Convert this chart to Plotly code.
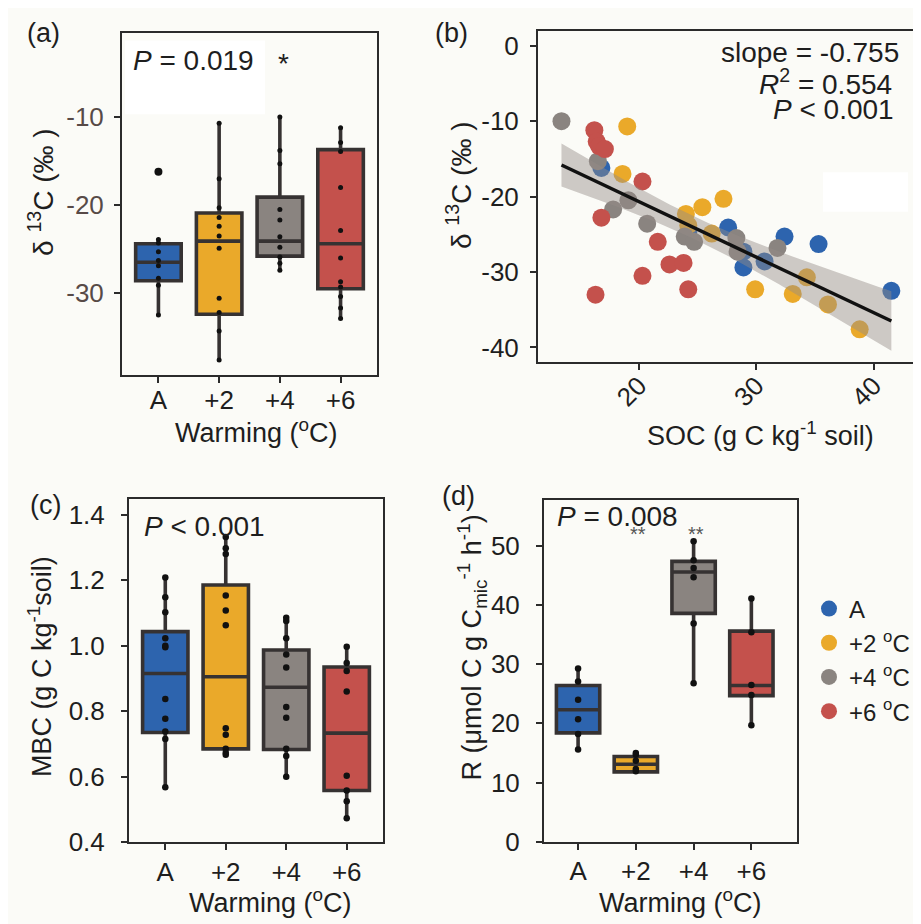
import numpy as np
import plotly.graph_objects as go

W, H = 921, 924
groups = ["A", "+2", "+4", "+6"]
legend_names = ["A", "+2 <sup>o</sup>C", "+4 <sup>o</sup>C", "+6 <sup>o</sup>C"]
colors = ["#2d64ae", "#eaa92a", "#8a8480", "#c4514c"]
BG = "#fbfbf7"
DARK = "#2b2b2b"
BOXLINE = "#363232"

# ---- panel (a): delta13C by warming ----
a_q1 = [-28.6, -32.4, -25.8, -29.5]
a_med = [-26.5, -24.1, -24.1, -24.4]
a_q3 = [-24.4, -20.9, -19.1, -13.7]
a_lo = [-32.5, -37.6, -27.4, -32.9]
a_hi = [-23.9, -10.7, -10.0, -11.2]
a_pts = [
    [-23.9, -24.3, -25.3, -26.3, -26.9, -28.3, -29.1, -32.5],
    [-10.7, -17.0, -20.3, -21.4, -22.4, -23.5, -24.9, -30.6, -32.2, -34.3, -37.6],
    [-10.0, -13.8, -15.3, -20.5, -21.7, -23.6, -24.8, -25.9, -26.6, -27.4],
    [-11.2, -12.9, -13.9, -18.0, -22.9, -26.0, -28.7, -29.3, -30.4, -31.7, -32.9],
]
a_outlier_x = [1]
a_outlier_y = [-16.2]
a_ticks = [-30, -20, -10]
a_ticklabels = ["-30", "-20", "-10"]

# ---- panel (b): SOC vs delta13C ----
b_x = [
    [16.8, 24.2, 27.6, 28.9, 28.9, 30.7, 32.4, 35.3, 41.5],
    [19.0, 18.6, 27.2, 25.4, 24.0, 24.2, 26.2, 29.9, 33.1, 34.3, 36.1, 38.8],
    [13.4, 16.5, 17.8, 19.1, 20.7, 23.9, 24.7, 28.3, 28.4, 31.8],
    [16.2, 16.4, 16.6, 17.1, 20.3, 16.8, 21.6, 22.6, 23.8, 20.3, 16.3, 24.2],
]
b_y = [
    [-16.2, -24.7, -24.1, -27.3, -29.4, -28.6, -25.3, -26.3, -32.5],
    [-10.7, -17.0, -20.3, -21.4, -22.3, -23.8, -24.9, -32.3, -32.9, -30.7, -34.3, -37.6],
    [-10.0, -15.3, -21.7, -20.5, -23.6, -25.3, -26.0, -25.5, -27.3, -26.8],
    [-11.2, -12.7, -13.3, -13.7, -18.0, -22.8, -26.0, -29.0, -28.8, -30.5, -33.0, -32.3],
]
b_yticks = [-40, -30, -20, -10, 0]
b_yticklabels = ["-40", "-30", "-20", "-10", "0"]
b_xticks = [20, 30, 40]

# ---- panel (c): MBC ----
c_q1 = [0.735, 0.685, 0.683, 0.558]
c_med = [0.915, 0.905, 0.873, 0.733]
c_q3 = [1.043, 1.185, 0.987, 0.935]
c_lo = [0.568, 0.667, 0.600, 0.473]
c_hi = [1.208, 1.332, 1.085, 0.997]
c_pts = [
    [1.208, 1.148, 1.102, 1.023, 1.000, 0.995, 0.837, 0.777, 0.738, 0.715, 0.568],
    [1.332, 1.297, 1.280, 1.153, 1.107, 1.062, 0.748, 0.728, 0.685, 0.673, 0.667],
    [1.085, 1.075, 1.023, 0.973, 0.933, 0.813, 0.780, 0.685, 0.663, 0.600],
    [0.997, 0.947, 0.923, 0.860, 0.603, 0.558, 0.525, 0.473],
]
c_ticks = [0.4, 0.6, 0.8, 1.0, 1.2, 1.4]

# ---- panel (d): R ----
d_q1 = [18.4, 11.8, 38.6, 24.7]
d_med = [22.3, 13.1, 45.6, 26.4]
d_q3 = [26.4, 14.4, 47.4, 35.6]
d_lo = [15.6, 11.7, 26.8, 19.7]
d_hi = [29.3, 15.0, 50.8, 41.1]
d_pts = [
    [29.3, 27.1, 24.0, 20.7, 18.2, 15.6],
    [15.0, 14.7, 13.7, 12.3, 11.9],
    [50.8, 47.6, 46.3, 44.7, 36.9, 26.8],
    [41.1, 35.4, 26.5, 24.8, 19.7],
]
d_ticks = [0, 10, 20, 30, 40, 50]

xpos = [1, 2, 3, 4]
FONT = "Liberation Sans, Arial, sans-serif"

fig = go.Figure()


def px2x(p):
    return p / W


def px2y(p):
    return 1 - p / H


def add_boxes(xa, ya, q1, med, q3, lo, hi, pts, dotsize):
    for i in range(4):
        fig.add_trace(go.Box(
            x=[xpos[i]], q1=[q1[i]], median=[med[i]], q3=[q3[i]],
            lowerfence=[lo[i]], upperfence=[hi[i]],
            width=0.75, fillcolor=colors[i], whiskerwidth=0,
            line=dict(color=BOXLINE, width=3.6), boxpoints=False,
            xaxis=xa, yaxis=ya, showlegend=False, hoverinfo="skip"))
        fig.add_trace(go.Scatter(
            x=[xpos[i]] * len(pts[i]), y=pts[i], mode="markers",
            marker=dict(color="#111111", size=dotsize),
            xaxis=xa, yaxis=ya, showlegend=False, hoverinfo="skip"))


add_boxes("x", "y", a_q1, a_med, a_q3, a_lo, a_hi, a_pts, 5)
fig.add_trace(go.Scatter(x=a_outlier_x, y=a_outlier_y, mode="markers",
                         marker=dict(color="#111111", size=8),
                         xaxis="x", yaxis="y", showlegend=False))
add_boxes("x3", "y3", c_q1, c_med, c_q3, c_lo, c_hi, c_pts, 6.5)
add_boxes("x4", "y4", d_q1, d_med, d_q3, d_lo, d_hi, d_pts, 6.5)

# scatter (b)
for i in range(4):
    fig.add_trace(go.Scatter(
        x=b_x[i], y=b_y[i], mode="markers", name=legend_names[i],
        marker=dict(color=colors[i], size=18, line=dict(width=0)),
        xaxis="x2", yaxis="y2", showlegend=True, legend="legend"))

# regression fit with 95% confidence band (from the data)
allx = np.concatenate([np.array(v) for v in b_x])
ally = np.concatenate([np.array(v) for v in b_y])
n = len(allx)
slope, icpt = np.polyfit(allx, ally, 1)
xs = np.linspace(allx.min(), allx.max(), 80)
yfit = icpt + slope * xs
resid = ally - (icpt + slope * allx)
s = np.sqrt(np.sum(resid ** 2) / (n - 2))
sxx = np.sum((allx - allx.mean()) ** 2)
se = s * np.sqrt(1 / n + (xs - allx.mean()) ** 2 / sxx)
tval = 2.02
fig.add_trace(go.Scatter(
    x=np.concatenate([xs, xs[::-1]]),
    y=np.concatenate([yfit + tval * se, (yfit - tval * se)[::-1]]),
    fill="toself", fillcolor="rgba(148,140,136,0.45)", line=dict(width=0),
    mode="lines", xaxis="x2", yaxis="y2", showlegend=False, hoverinfo="skip"))
fig.add_trace(go.Scatter(x=xs, y=yfit, mode="lines",
                         line=dict(color="#111111", width=3.5),
                         xaxis="x2", yaxis="y2", showlegend=False))

TICKFONT = dict(family=FONT, size=26, color="#1e1e1e")


def axis_common(dom, rng, **kw):
    d = dict(domain=dom, range=rng, showline=True, mirror=True, linecolor=DARK,
             linewidth=2, ticks="outside", ticklen=6, tickwidth=2, tickcolor=DARK,
             showgrid=False, zeroline=False, tickfont=TICKFONT, fixedrange=True)
    d.update(kw)
    return d


cat_kw = dict(tickmode="array", tickvals=xpos, ticktext=groups)

fig.update_layout(
    width=W, height=H, margin=dict(l=0, r=0, t=0, b=0),
    paper_bgcolor=BG, plot_bgcolor=BG,
    font=dict(family=FONT, size=24, color="#1e1e1e"),
    xaxis=axis_common([px2x(114), px2x(369)], [0.4, 4.6], anchor="y",
                      ticklabelstandoff=-5, **cat_kw),
    yaxis=axis_common([px2y(373), px2y(25)], [-39.3, -0.4], anchor="x",
                      tickmode="array", tickvals=a_ticks, ticktext=a_ticklabels,
                      ticklabelstandoff=5,
                      tickfont=dict(family=FONT, size=26, color="#574a47")),
    xaxis2=axis_common([px2x(530), px2x(908)], [11.4, 43.6], anchor="y2",
                       tickvals=b_xticks, tickangle=-45, ticklabelstandoff=-10),
    yaxis2=axis_common([px2y(360), px2y(23)], [-41.95, 2.0], anchor="x2",
                       tickmode="array", tickvals=b_yticks, ticktext=b_yticklabels,
                       ticklabelstandoff=6),
    xaxis3=axis_common([px2x(121), px2x(375)], [0.4, 4.6], anchor="y3",
                       ticklabelstandoff=0, **cat_kw),
    yaxis3=axis_common([px2y(848), px2y(499)], [0.4, 1.448], anchor="x3",
                       tickvals=c_ticks, tickformat=".1f", ticklabelstandoff=11),
    xaxis4=axis_common([px2x(536), px2x(789)], [0.41, 4.79], anchor="y4",
                       ticklabelstandoff=-1, **cat_kw),
    yaxis4=axis_common([px2y(848), px2y(500)], [-0.1, 57.8], anchor="x4",
                       tickvals=d_ticks, ticklabelstandoff=11),
    legend=dict(x=px2x(801), y=px2y(588), xanchor="left", yanchor="top",
                bgcolor="rgba(0,0,0,0)", font=dict(size=24), itemsizing="trace",
                tracegroupgap=0, itemwidth=30),
    showlegend=True,
)

# subtle white patches present in the original figure
fig.add_shape(type="rect", xref="paper", yref="paper", x0=px2x(117), x1=px2x(257),
              y0=px2y(108), y1=px2y(33), fillcolor="#ffffff", line=dict(width=0), layer="below")
fig.add_shape(type="rect", xref="paper", yref="paper", x0=px2x(815), x1=px2x(900),
              y0=px2y(207), y1=px2y(167), fillcolor="#ffffff", line=dict(width=0), layer="below")

ann = []


def text(x, y, s, size=28, xanchor="left", angle=0, color="#1e1e1e"):
    ann.append(dict(x=px2x(x), y=px2y(y), xref="paper", yref="paper", text=s,
                    showarrow=False, xanchor=xanchor, yanchor="middle", textangle=angle,
                    font=dict(size=size, color=color)))


# panel letters
text(17, 25, "(a)", size=27)
text(425, 25, "(b)", size=27)
text(20, 505, "(c)", size=27)
text(432, 496, "(d)", size=27)
# in-panel texts
text(123, 53, "<i>P</i> = 0.019")
text(275, 56, "*", size=28, xanchor="center")
text(893, 45, "slope = -0.755", xanchor="right")
text(886, 75, "<i>R</i><sup>2</sup> = 0.554", xanchor="right")
text(888, 103, "<i>P</i> < 0.001", xanchor="right")
text(134, 527, "<i>P</i> < 0.001")
text(630, 535, "**", size=20, xanchor="center", color="#555555")
text(688, 535, "**", size=20, xanchor="center", color="#555555")
text(547, 517, "<i>P</i> = 0.008")
# axis titles
text(33, 187, "δ <sup>13</sup>C (‰ )", size=28, xanchor="center", angle=-90)
text(248, 430, "Warming (<sup>o</sup>C)", size=27, xanchor="center")
text(451, 180, "δ <sup>13</sup>C (‰ )", size=28, xanchor="center", angle=-90)
text(752, 433, "SOC (g C kg<sup>-1</sup> soil)", size=27, xanchor="center")
text(32, 670, "MBC (g C kg<sup>-1</sup>soil)", size=27, xanchor="center", angle=-90)
text(262, 908, "Warming (<sup>o</sup>C)", size=27, xanchor="center")
text(464, 650, "R (μmol C g C<sub>mic</sub><sup>-1</sup> h<sup>-1</sup>)", size=27, xanchor="center", angle=-90)
text(672, 908, "Warming (<sup>o</sup>C)", size=27, xanchor="center")
fig.update_layout(annotations=ann)

fig.write_html("out.html")
